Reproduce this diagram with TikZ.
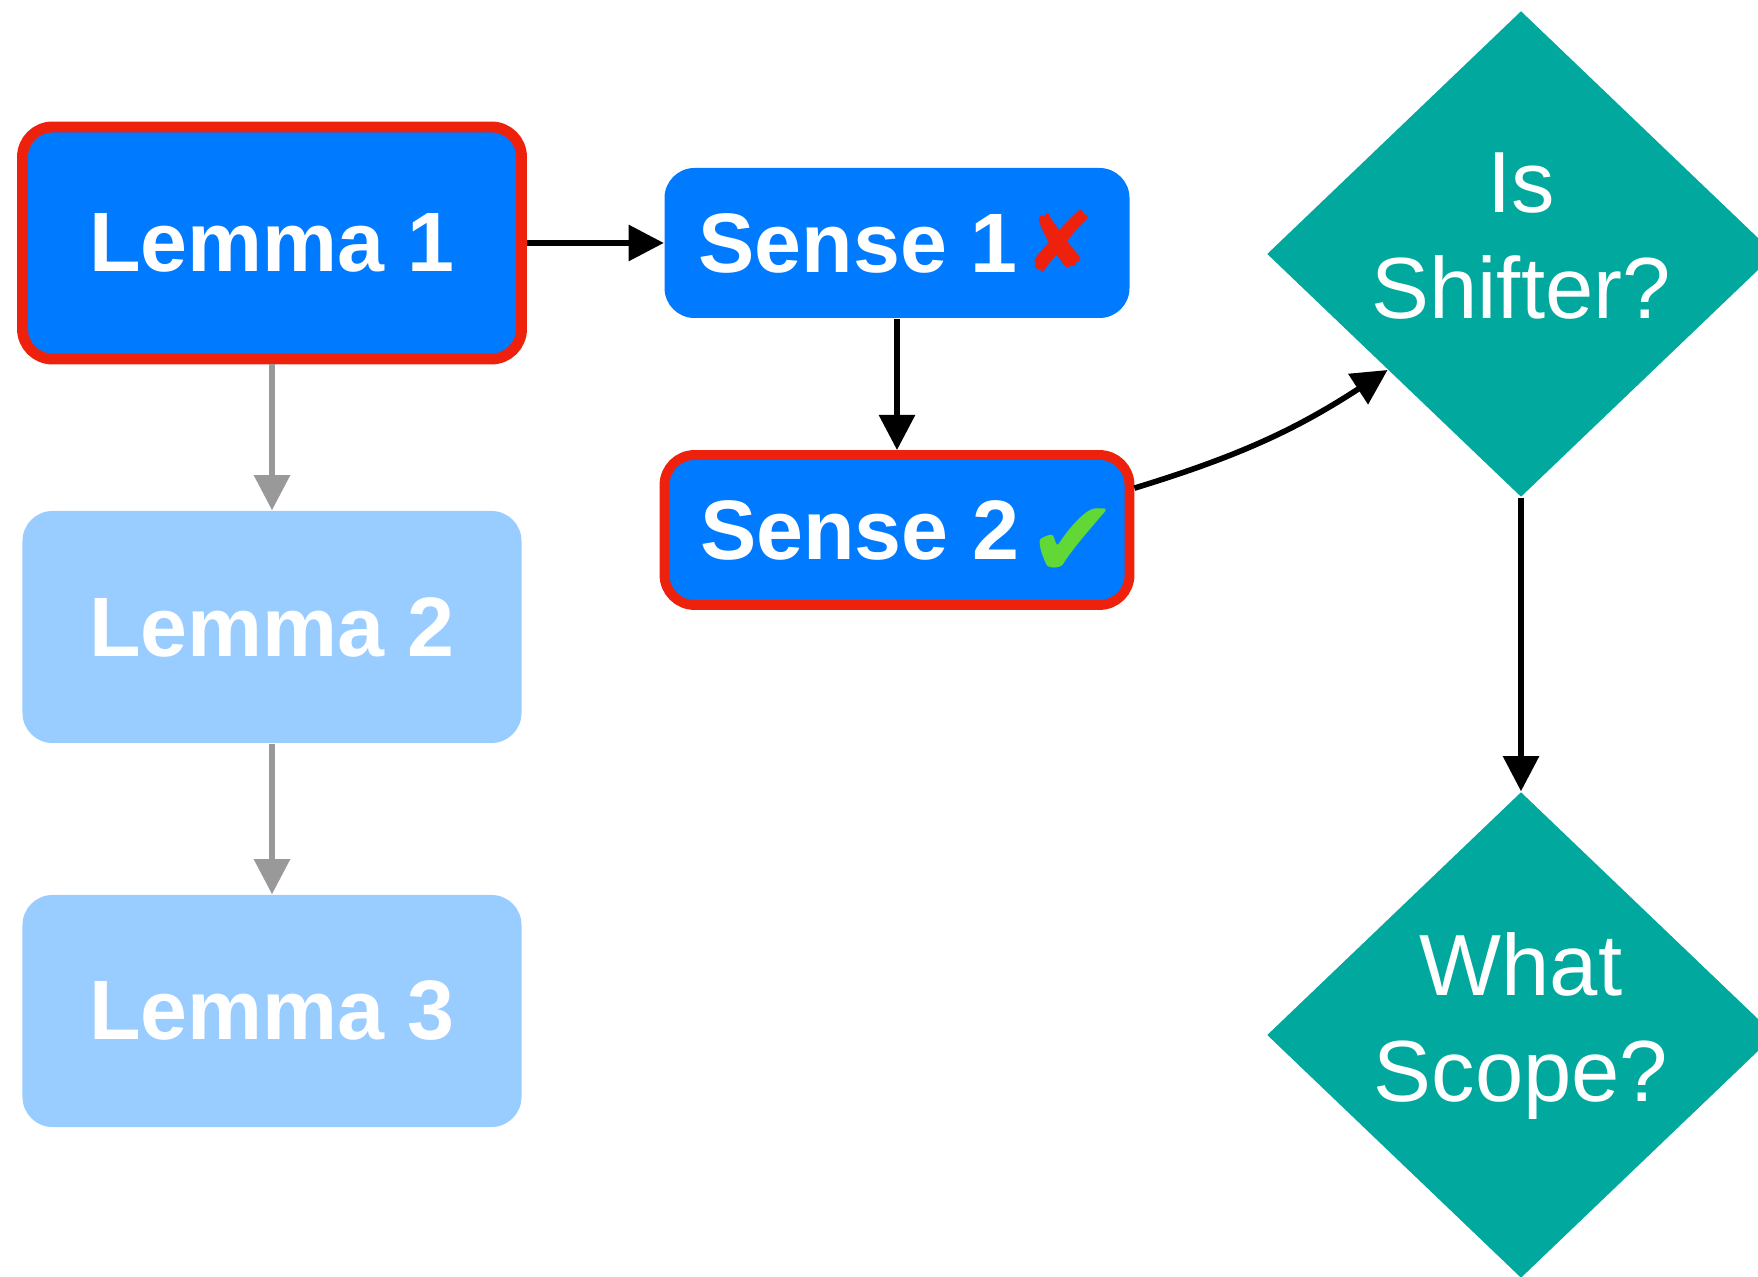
\documentclass[tikz,border=0pt]{standalone}
\usepackage{fontspec}
\setmainfont{Liberation Sans}
\newfontfamily\marksfont{DejaVu Sans}
\usetikzlibrary{shapes.geometric,arrows.meta}
\definecolor{boxblue}{HTML}{007AFF}
\definecolor{paleblue}{HTML}{99CCFF}
\definecolor{pickred}{HTML}{EE220C}
\definecolor{qteal}{HTML}{00A89D}
\definecolor{arrowgray}{HTML}{999999}
\definecolor{okgreen}{HTML}{61D836}

\begin{document}
\begin{tikzpicture}
  \tikzset{lemma/.style = {shape=rectangle,rounded corners=0.3cm,fill=boxblue,text=white,font=\fontsize{24}{28}\selectfont\bfseries,minimum width=4.99cm,minimum height=2.32cm,inner sep=0pt}}
  \tikzset{sense/.style = {lemma,minimum width=4.65cm,minimum height=1.5cm,text height=0.6cm,text depth=0pt}}
  \tikzset{picked/.style = {draw=pickred,line width=3.1pt}}
  \tikzset{faded/.style = {fill=paleblue}}
  \tikzset{question/.style = {shape=diamond,fill=qteal,text=white,align=center,font=\fontsize{24.7}{30.2}\selectfont,minimum width=5.08cm,minimum height=4.86cm,inner xsep=-0.2cm,inner ysep=0pt,text depth=0.36cm}}
  \tikzset{edge/.style = {-{Triangle[length=10pt,width=10pt]},line width=1.6pt}}
  \useasboundingbox (0,0) rectangle (17.58,-12.77);
	\node[lemma][picked] (l1) at (2.72,-2.43) {Lemma 1};
	\node[lemma][faded] (l2) at (2.72,-6.27) {Lemma 2};
	\node[lemma][faded] (l3) at (2.72,-10.11) {Lemma 3};
	\node[sense] (s1) at (8.97,-2.43) {Sense 1 \kern-0.16cm{\marksfont\mdseries\fontsize{24}{24}\selectfont\color{pickred}✘}};
	\node[sense][picked,line width=2.8pt] (s2) at (8.97,-5.30) {\kern0.25cm Sense 2 \kern-0.15cm\raisebox{-0.18cm}{\marksfont\mdseries\fontsize{31}{31}\selectfont\color{okgreen}✔}};
	\node[question] (shifter) at (15.21,-2.54) {Is\\Shifter?};
	\node[question] (scope) at (15.21,-10.35) {What\\Scope?};

    \foreach \from/\to in {l1/l2,l2/l3}
    \path[edge,arrowgray] (\from) edge (\to);
    \foreach \from/\to in {l1/s1,s1/s2,shifter/scope}
    \path[edge] (\from) edge (\to);
    \draw[edge] (s2.10) to[bend right=8] (shifter.221);
\end{tikzpicture}
\end{document}
